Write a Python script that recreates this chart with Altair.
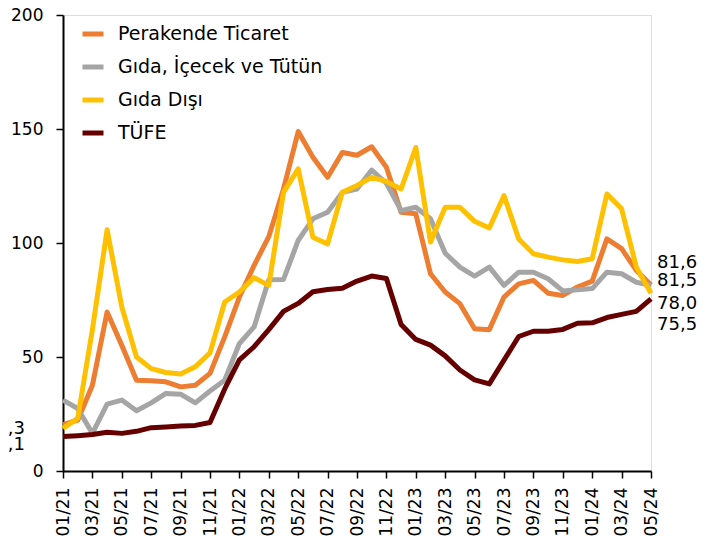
import altair as alt
import pandas as pd

months = ["01/21", "02/21", "03/21", "04/21", "05/21", "06/21", "07/21", "08/21", "09/21", "10/21",
          "11/21", "12/21", "01/22", "02/22", "03/22", "04/22", "05/22", "06/22", "07/22", "08/22",
          "09/22", "10/22", "11/22", "12/22", "01/23", "02/23", "03/23", "04/23", "05/23", "06/23",
          "07/23", "08/23", "09/23", "10/23", "11/23", "12/23", "01/24", "02/24", "03/24", "04/24",
          "05/24"]

perakende = [20.3, 22.3, 37.6, 69.7, 55.1, 39.8, 39.6, 39.1, 36.9, 37.6,
             42.8, 58.8, 76.3, 90.2, 102.8, 123.7, 148.9, 137.6, 128.8, 139.7,
             138.5, 142.2, 133.2, 113.5, 112.8, 86.5, 78.5, 73.4, 62.4, 62.0,
             76.3, 82.1, 83.6, 78.0, 77.0, 80.7, 83.3, 101.8, 97.5, 88.0,
             81.6]
gida = [31.1, 27.4, 16.5, 29.3, 31.1, 26.4, 29.9, 34.0, 33.7, 29.9,
        35.1, 39.8, 55.9, 63.2, 83.9, 84.0, 101.1, 110.6, 113.5, 122.2,
        123.7, 132.0, 126.2, 114.2, 115.7, 110.6, 95.5, 89.4, 85.5, 89.4,
        81.4, 87.2, 87.2, 84.3, 79.0, 79.5, 80.0, 87.2, 86.5, 82.8,
        81.5]
gida_disi = [18.7, 23.1, 62.0, 105.8, 71.9, 50.0, 44.9, 43.2, 42.5, 45.7,
             51.8, 74.1, 78.5, 84.8, 81.4, 122.2, 132.5, 102.5, 99.6, 122.2,
             125.2, 128.8, 127.0, 123.7, 141.9, 100.4, 115.7, 115.7, 109.5, 106.6,
             120.8, 101.8, 95.3, 93.8, 92.6, 91.9, 93.1, 121.5, 115.0, 89.4,
             78.0]
tufe = [15.1, 15.5, 16.0, 17.0, 16.5, 17.4, 19.0, 19.3, 19.7, 20.0,
        21.3, 36.0, 48.7, 54.5, 62.0, 70.0, 73.5, 78.6, 79.6, 80.2,
        83.3, 85.5, 84.4, 64.3, 57.7, 55.2, 50.5, 44.3, 40.0, 38.2,
        48.6, 59.0, 61.3, 61.3, 62.1, 64.8, 65.0, 67.3, 68.7, 70.0,
        75.5]

series_names = ["Perakende Ticaret", "Gıda, İçecek ve Tütün", "Gıda Dışı", "TÜFE"]
series_values = [perakende, gida, gida_disi, tufe]
colors = ["#ED7D31", "#A5A5A5", "#FFC000", "#660000"]

# end labels (right) and start labels (left)
end_labels = ["81,6", "81,5", "78,0", "75,5"]
start_label_series = ["Perakende Ticaret", "TÜFE"]
start_labels = ["20,3", "15,1"]

FONT = "DejaVu Sans"

rows = []
for name, vals in zip(series_names, series_values):
    for m, v in zip(months, vals):
        rows.append({"series": name, "month": m, "value": v})
df = pd.DataFrame(rows)

x_enc = alt.X(
    "month:N",
    sort=months,
    scale=alt.Scale(type="point", padding=0),
    axis=alt.Axis(
        values=months[::2], labelAngle=-90, title=None,
        labelFont=FONT, labelFontSize=17, labelColor="black",
        tickColor="black", tickSize=7, tickWidth=1.5,
        domainColor="black", domainWidth=2, labelPadding=9, grid=False,
    ),
)
y_enc = alt.Y(
    "value:Q",
    scale=alt.Scale(domain=[0, 200], nice=False),
    axis=alt.Axis(
        values=[0, 50, 100, 150, 200], title=None,
        labelFont=FONT, labelFontSize=17, labelColor="black",
        tickColor="black", tickSize=7, tickWidth=1.5,
        domainColor="black", domainWidth=2, labelPadding=13, grid=False,
    ),
)

lines = alt.Chart(df).mark_line(strokeWidth=5, strokeJoin="round").encode(
    x=x_enc,
    y=y_enc,
    color=alt.Color(
        "series:N",
        sort=series_names,
        scale=alt.Scale(domain=series_names, range=colors),
        legend=alt.Legend(
            title=None, orient="none", legendX=17, legendY=6,
            symbolType="stroke", symbolStrokeWidth=5, symbolSize=441,
            labelFont=FONT, labelFontSize=19, labelColor="black",
            rowPadding=10, labelOffset=12, padding=0, labelLimit=400,
        ),
    ),
)

layers = [lines]

end_dy = [-22, -4, 11, 26]
for name, vals, txt, dy in zip(series_names, series_values, end_labels, end_dy):
    d = pd.DataFrame([{"month": months[-1], "value": vals[-1], "label": txt}])
    layers.append(
        alt.Chart(d).mark_text(align="left", baseline="middle", dx=6, dy=dy,
                               font=FONT, fontSize=18, color="black")
        .encode(x=alt.X("month:N", sort=months), y="value:Q", text="label:N")
    )

start_dy = [4, 8]
for name, txt, dy in zip(start_label_series, start_labels, start_dy):
    v = series_values[series_names.index(name)][0]
    d = pd.DataFrame([{"month": months[0], "value": v, "label": txt}])
    layers.append(
        alt.Chart(d).mark_text(align="right", baseline="middle", dx=-38, dy=dy,
                               font=FONT, fontSize=18, color="black")
        .encode(x=alt.X("month:N", sort=months), y="value:Q", text="label:N")
    )

chart = alt.layer(*layers).properties(
    width=588,
    height=456,
    autosize=alt.AutoSizeParams(type="none"),
    padding={"left": 55, "top": 7, "right": 52, "bottom": 70},
).configure_view(stroke=None).configure(background="white")

chart.save("out.html", embed_options={"renderer": "svg", "actions": False})
